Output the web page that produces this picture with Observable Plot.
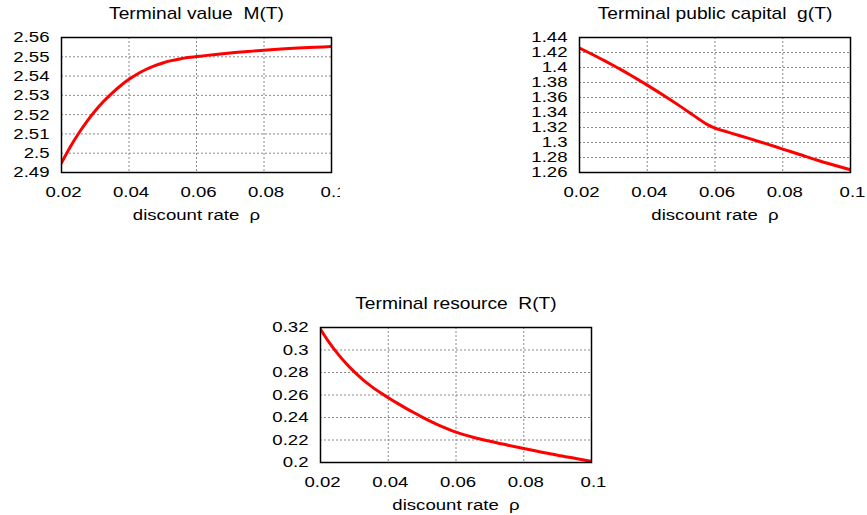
<!DOCTYPE html>
<html>
<head>
<meta charset="utf-8">
<script src="https://cdn.jsdelivr.net/npm/d3@7"></script>
<script src="https://cdn.jsdelivr.net/npm/@observablehq/plot@0.6"></script>
<style>
html, body { margin: 0; padding: 0; background: #fff; }
#wrap { position: relative; width: 867px; height: 515px; overflow: hidden; background: #fff; }
.panel { position: absolute; overflow: hidden; }
.panel svg { max-width: none; }
.panel svg text { white-space: pre; }
</style>
</head>
<body>
<div id="wrap"></div>
<script>
// discount rate grid (x values)
const rho = [0.02, 0.0225, 0.025, 0.0275, 0.03, 0.0325, 0.035, 0.0375, 0.04, 0.0425, 0.045, 0.0475,
             0.05, 0.0525, 0.055, 0.0575, 0.06, 0.0625, 0.065, 0.07, 0.075, 0.08, 0.085, 0.09, 0.095, 0.1];

// Terminal value M(T)
const terminalValue = [2.4950, 2.5030, 2.5101, 2.5164, 2.5220, 2.5269, 2.5312, 2.5350, 2.5383, 2.5411, 2.5434, 2.5453,
                       2.5468, 2.5480, 2.5489, 2.5496, 2.5501, 2.5506, 2.5511, 2.5520, 2.5527, 2.5534, 2.5540, 2.5545, 2.5549, 2.5553];

// Terminal public capital g(T)
const publicCapital = [1.4258, 1.4203, 1.4147, 1.4088, 1.4027, 1.3965, 1.3900, 1.3833, 1.3765, 1.3695, 1.3623, 1.3550,
                       1.3475, 1.3398, 1.3320, 1.3245, 1.3192, 1.3156, 1.3122, 1.3055, 1.2985, 1.2912, 1.2840, 1.2767, 1.2700, 1.2636];

// Terminal resource R(T)
const terminalResource = [0.3185, 0.3070, 0.2970, 0.2882, 0.2805, 0.2737, 0.2677, 0.2624, 0.2576, 0.2530, 0.2486, 0.2444,
                          0.2404, 0.2366, 0.2331, 0.2299, 0.2270, 0.2246, 0.2225, 0.2189, 0.2156, 0.2124, 0.2094, 0.2064, 0.2037, 0.2010];

// tick values
const rhoTicks = [0.02, 0.04, 0.06, 0.08, 0.1];
const mTicks = [2.49, 2.5, 2.51, 2.52, 2.53, 2.54, 2.55, 2.56];
const gTicks = [1.26, 1.28, 1.3, 1.32, 1.34, 1.36, 1.38, 1.4, 1.42, 1.44];
const rTicks = [0.2, 0.22, 0.24, 0.26, 0.28, 0.3, 0.32];

// titles / labels
const titles = ["Terminal value  M(T)", "Terminal public capital  g(T)", "Terminal resource  R(T)"];
const xLabel = "discount rate  \u03c1";

const fmt = d => String(+(+d).toFixed(4));
const FONT = "'Liberation Sans', Arial, Helvetica, sans-serif";
const STRETCH = 1.2;

function panel(cfg) {
  const data = rho.map((x, i) => ({x, y: cfg.values[i]}));
  const svg = Plot.plot({
    width: cfg.width,
    height: cfg.height,
    marginLeft: cfg.ml, marginRight: cfg.mr, marginTop: cfg.mt, marginBottom: cfg.mb,
    style: {fontFamily: FONT, fontSize: "15.5px", color: "#000", background: "#fff"},
    x: {domain: [0.02, 0.1]},
    y: {domain: cfg.yDomain},
    marks: [
      Plot.gridX(rhoTicks, {stroke: "#8a8a8a", strokeOpacity: 1, strokeDasharray: "2,2", strokeWidth: 1}),
      Plot.gridY(cfg.yTicks, {stroke: "#8a8a8a", strokeOpacity: 1, strokeDasharray: "2,2", strokeWidth: 1}),
      Plot.line(data, {x: "x", y: "y", stroke: "#ff0000", strokeWidth: 3, curve: "monotone-x", clip: true}),
      Plot.frame({stroke: "#000", strokeWidth: 1.5}),
      Plot.axisX(rhoTicks, {tickSize: 0, tickPadding: 13, tickFormat: fmt, label: null, dx: 2, fill: "#000"}),
      Plot.axisY(cfg.yTicks, {tickSize: 0, tickPadding: 12, tickFormat: fmt, label: null, fill: "#000"}),
      Plot.text([cfg.title], {text: d => d, frameAnchor: "top", dy: -19, lineAnchor: "bottom", fill: "#000", fontSize: 16}),
      Plot.text([xLabel], {text: d => d, frameAnchor: "bottom", dy: 47, lineAnchor: "bottom", fill: "#000"})
    ]
  });
  // horizontal stretch of the glyphs (around each text's anchor point)
  svg.querySelectorAll("text").forEach(t => {
    const tr = t.getAttribute("transform");
    if (tr) t.setAttribute("transform", tr + ` scale(${STRETCH},1)`);
  });
  const div = document.createElement("div");
  div.className = "panel";
  div.style.left = cfg.left + "px";
  div.style.top = cfg.top + "px";
  div.style.width = cfg.width + "px";
  div.style.height = cfg.height + "px";
  div.appendChild(svg);
  document.getElementById("wrap").appendChild(div);
}

panel({left: 0, top: 0, width: 340, height: 230, ml: 61, mr: 9, mt: 37, mb: 58,
       title: titles[0], values: terminalValue, yDomain: [2.49, 2.56], yTicks: mTicks});
panel({left: 520, top: 0, width: 347, height: 230, ml: 59, mr: 17, mt: 37, mb: 58,
       title: titles[1], values: publicCapital, yDomain: [1.26, 1.44], yTicks: gTicks});
panel({left: 260, top: 285, width: 350, height: 230, ml: 60, mr: 19, mt: 42, mb: 53,
       title: titles[2], values: terminalResource, yDomain: [0.2, 0.32], yTicks: rTicks});
</script>
</body>
</html>
